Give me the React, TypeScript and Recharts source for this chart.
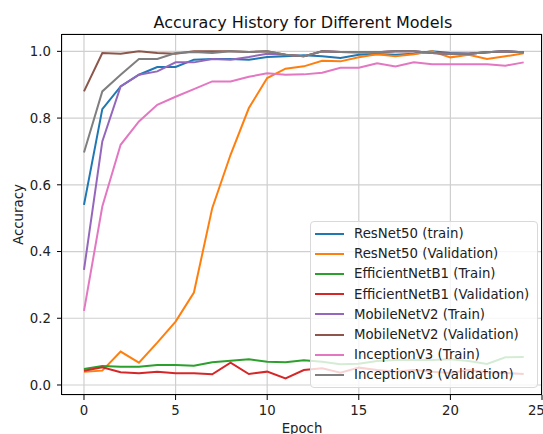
import React from "react";
import { LineChart, Line, XAxis, YAxis, CartesianGrid, Legend } from "recharts";

const epochs = [0, 1, 2, 3, 4, 5, 6, 7, 8, 9, 10, 11, 12, 13, 14, 15, 16, 17, 18, 19, 20, 21, 22, 23, 24];

const resnetTrain = [0.54, 0.827, 0.895, 0.93, 0.953, 0.953, 0.975, 0.977, 0.977, 0.975, 0.983, 0.985, 0.988, 0.985, 0.98, 0.99, 0.992, 0.99, 0.993, 1.0, 0.995, 0.993, 0.997, 1.0, 0.997];
const resnetVal = [0.04, 0.043, 0.1, 0.067, 0.127, 0.19, 0.277, 0.53, 0.69, 0.83, 0.92, 0.948, 0.955, 0.972, 0.97, 0.982, 0.991, 0.985, 0.991, 1.0, 0.982, 0.99, 0.977, 0.985, 0.994];
const effTrain = [0.048, 0.057, 0.055, 0.055, 0.06, 0.06, 0.058, 0.068, 0.073, 0.077, 0.07, 0.068, 0.074, 0.07, 0.062, 0.064, 0.072, 0.075, 0.075, 0.075, 0.077, 0.072, 0.063, 0.083, 0.084];
const effVal = [0.043, 0.053, 0.038, 0.035, 0.04, 0.035, 0.035, 0.032, 0.067, 0.033, 0.04, 0.02, 0.045, 0.05, 0.037, 0.052, 0.045, 0.04, 0.045, 0.04, 0.036, 0.045, 0.038, 0.036, 0.033];
const mobileTrain = [0.345, 0.73, 0.895, 0.93, 0.94, 0.967, 0.967, 0.977, 0.975, 0.983, 0.993, 0.99, 0.985, 1.0, 0.998, 0.997, 0.997, 1.0, 1.0, 0.995, 0.993, 0.993, 0.997, 1.0, 0.997];
const mobileVal = [0.88, 0.995, 0.993, 1.0, 0.995, 0.993, 1.0, 1.0, 1.0, 0.998, 1.0, 0.99, 0.985, 1.0, 0.998, 0.997, 0.997, 1.0, 1.0, 0.995, 0.993, 0.993, 0.997, 1.0, 0.997];
const inceptionTrain = [0.222, 0.535, 0.72, 0.79, 0.84, 0.864, 0.887, 0.91, 0.91, 0.924, 0.934, 0.93, 0.931, 0.936, 0.951, 0.951, 0.964, 0.955, 0.967, 0.961, 0.961, 0.961, 0.961, 0.957, 0.967];
const inceptionVal = [0.697, 0.88, 0.93, 0.977, 0.977, 0.995, 0.998, 0.995, 1.0, 0.998, 1.0, 0.99, 0.985, 1.0, 0.998, 0.997, 0.997, 1.0, 1.0, 0.995, 0.993, 0.993, 0.997, 1.0, 0.997];

const xTicks = [0, 5, 10, 15, 20, 25];
const yTicks = [0, 0.2, 0.4, 0.6, 0.8, 1.0];

const series = [
  { key: "resnetTrain", name: "ResNet50 (train)", color: "#1f77b4", values: resnetTrain },
  { key: "resnetVal", name: "ResNet50 (Validation)", color: "#ff7f0e", values: resnetVal },
  { key: "effTrain", name: "EfficientNetB1 (Train)", color: "#2ca02c", values: effTrain },
  { key: "effVal", name: "EfficientNetB1 (Validation)", color: "#d62728", values: effVal },
  { key: "mobileTrain", name: "MobileNetV2 (Train)", color: "#9467bd", values: mobileTrain },
  { key: "mobileVal", name: "MobileNetV2 (Validation)", color: "#8c564b", values: mobileVal },
  { key: "inceptionTrain", name: "InceptionV3 (Train)", color: "#e377c2", values: inceptionTrain },
  { key: "inceptionVal", name: "InceptionV3 (Validation)", color: "#7f7f7f", values: inceptionVal },
];

const data = epochs.map((epoch, i) => {
  const row: Record<string, number> = { epoch };
  series.forEach((s) => {
    row[s.key] = s.values[i];
  });
  return row;
});

const font = "'DejaVu Sans', sans-serif";
const textColor = "#222";

const renderLegend = () => (
  <div
    style={{
      width: 228,
      boxSizing: "border-box",
      background: "rgba(255,255,255,0.8)",
      border: "1px solid #d9d9d9",
      borderRadius: 4,
      padding: "1.5px 4px",
      fontFamily: font,
      fontSize: 13.3,
      color: textColor,
    }}
  >
    {series.map((s) => (
      <div key={s.key} style={{ display: "flex", alignItems: "center", height: 20.2, whiteSpace: "nowrap" }}>
        <span style={{ display: "inline-block", width: 29, height: 2, background: s.color, marginRight: 10 }} />
        <span>{s.name}</span>
      </div>
    ))}
  </div>
);

const renderYLabel = () => (
  <text
    x={23}
    y={214.5}
    transform="rotate(-90 23 214.5)"
    textAnchor="middle"
    fontFamily={font}
    fontSize={13.3}
    fill={textColor}
  >
    Accuracy
  </text>
);

export default function App() {
  return (
    <div style={{ position: "absolute", left: 0, top: 0, width: 543, height: 434, background: "#fff" }}>
      <LineChart width={543} height={434} data={data} margin={{ top: 34, right: 1, bottom: 0, left: 0 }}>
        <CartesianGrid stroke="#cfcfcf" strokeWidth={1.2} />
        <XAxis
          dataKey="epoch"
          type="number"
          domain={[-1.2, 25]}
          ticks={xTicks}
          allowDataOverflow
          height={39}
          axisLine={false}
          tickSize={5}
          tickMargin={6}
          tickLine={{ stroke: "#000" }}
          tick={{ fill: textColor, fontSize: 13.3, fontFamily: font }}
          label={{ value: "Epoch", position: "insideBottom", offset: 1, fill: textColor, fontSize: 13.3, fontFamily: font }}
        />
        <YAxis
          type="number"
          domain={[-0.03, 1.052]}
          ticks={yTicks}
          allowDataOverflow
          width={62}
          axisLine={false}
          tickSize={5}
          tickMargin={6}
          tickLine={{ stroke: "#000" }}
          tickFormatter={(v: number) => v.toFixed(1)}
          tick={{ fill: textColor, fontSize: 13.3, fontFamily: font }}
          label={{ content: renderYLabel }}
        />
        {series.map((s) => (
          <Line
            key={s.key}
            dataKey={s.key}
            name={s.name}
            stroke={s.color}
            strokeWidth={2}
            dot={false}
            isAnimationActive={false}
          />
        ))}
        <Legend
          layout="vertical"
          align="center"
          verticalAlign="middle"
          content={renderLegend}
          wrapperStyle={{ left: 310, top: 221, width: 228 }}
        />
      </LineChart>
      <svg width={543} height={434} style={{ position: "absolute", left: 0, top: 0, pointerEvents: "none" }}>
        <rect x={61.5} y={34.5} width={480} height={360} fill="none" stroke="#000" strokeWidth={1} />
        <text x={303} y={27.5} textAnchor="middle" fontFamily={font} fontSize={16} fill="#111">
          Accuracy History for Different Models
        </text>
      </svg>
    </div>
  );
}
